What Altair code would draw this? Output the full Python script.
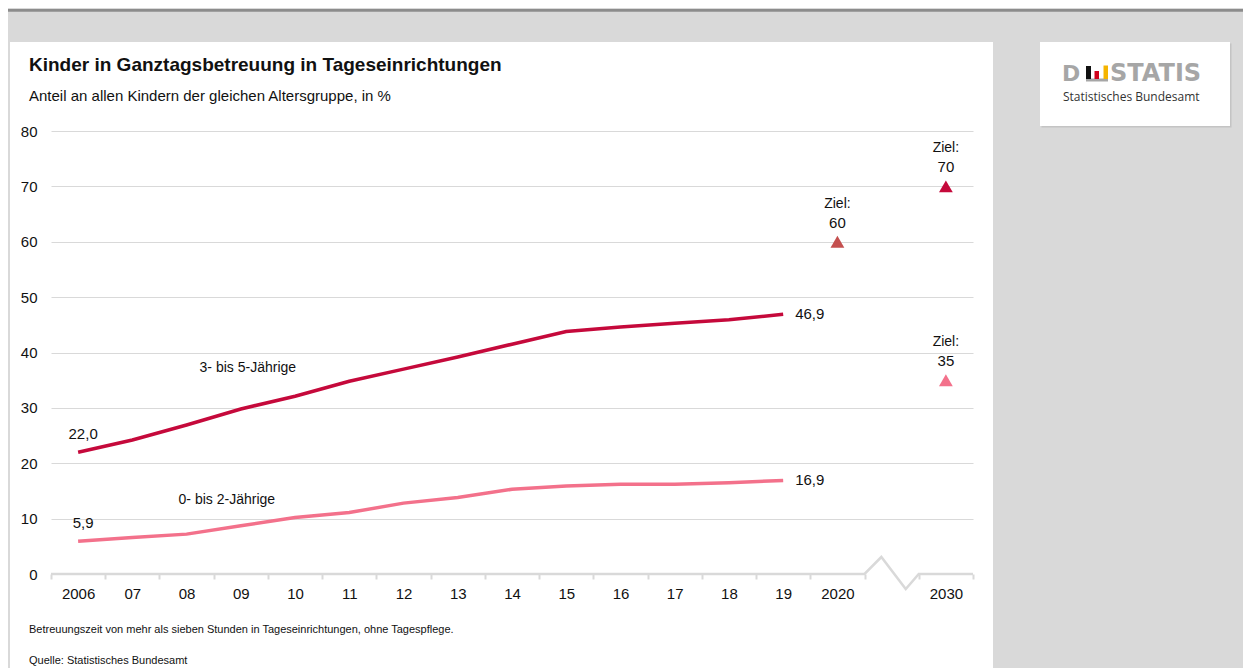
import altair as alt
import pandas as pd

# ---------------- data ----------------
years = ["2006", "07", "08", "09", "10", "11", "12", "13", "14", "15", "16", "17", "18", "19"]
x_domain = years + ["2020", "gap", "2030"]
share_3_5 = [22.0, 24.2, 26.9, 29.8, 32.1, 34.8, 37.0, 39.2, 41.5, 43.8, 44.6, 45.3, 45.9, 46.9]
share_0_2 = [5.9, 6.6, 7.2, 8.7, 10.2, 11.1, 12.8, 13.8, 15.3, 15.9, 16.2, 16.2, 16.5, 16.9]
series_names = ["3- bis 5-Jährige", "0- bis 2-Jährige"]
series_label_year = ["09", "09"]
series_label_value = [37.2, 13.4]

target_years = ["2020", "2030", "2030"]
target_values = [60, 70, 35]
target_groups = ["Ziel 2020", "3- bis 5-Jährige", "0- bis 2-Jährige"]

# broken baseline (axis break between 2020 and 2030), in band units / data units
axis_path_pos = [0, 15, 15.31, 15.76, 16, 17]
axis_path_val = [0, 0, 3.07, -2.7, 0, 0]

title_text = "Kinder in Ganztagsbetreuung in Tageseinrichtungen"
subtitle_text = "Anteil an allen Kindern der gleichen Altersgruppe, in %"
note_text = "Betreuungszeit von mehr als sieben Stunden in Tageseinrichtungen, ohne Tagespflege."
source_text = "Quelle: Statistisches Bundesamt"

# ---------------- style ----------------
FONT = "Liberation Sans"
TXT = "#111111"
GRID = "#d9d9d9"
BG = "#d9d9d9"
C35 = "#c5093b"
C02 = "#f3718b"
C2020 = "#c4504f"
W, H = 922, 443


def fmt(v):
    return f"{v:.1f}".replace(".", ",")


rows = []
for s, vals in zip(series_names, [share_3_5, share_0_2]):
    for yv, v in zip(years, vals):
        rows.append({"jahr": yv, "anteil": v, "gruppe": s})
lines_df = pd.DataFrame(rows)

first_df = lines_df[lines_df["jahr"] == years[0]].copy()
first_df["txt"] = first_df["anteil"].map(fmt)
last_df = lines_df[lines_df["jahr"] == years[-1]].copy()
last_df["txt"] = last_df["anteil"].map(fmt)

series_df = pd.DataFrame({"jahr": series_label_year, "anteil": series_label_value, "txt": series_names})

target_df = pd.DataFrame({"jahr": target_years, "anteil": target_values, "gruppe": target_groups,
                          "txt": [str(v) for v in target_values]})

base_df = pd.DataFrame({"pos": axis_path_pos, "val": axis_path_val, "o": list(range(len(axis_path_pos)))})

xscale = alt.Scale(type="band", domain=x_domain, paddingInner=0, paddingOuter=0)
xaxis = alt.Axis(domain=False, grid=False, tickBand="extent", tickSize=5, tickColor=GRID, tickWidth=2,
                 labelFontSize=15, labelColor=TXT, labelFont=FONT, labelPadding=7, labelAngle=0,
                 labelExpr="datum.value === 'gap' ? '' : datum.value")
yscale = alt.Scale(domain=[0, 80], nice=False, zero=True)
yaxis = alt.Axis(values=list(range(0, 81, 10)), domain=False, ticks=False, grid=True, gridColor=GRID,
                 gridWidth=1, gridOpacity=alt.condition("datum.value === 0", alt.value(0), alt.value(1)),
                 labelFontSize=15, labelColor=TXT, labelFont=FONT, labelPadding=14)


def xenc(f):
    return alt.X(f, scale=xscale, axis=xaxis, title=None)


def yenc(f):
    return alt.Y(f, scale=yscale, axis=yaxis, title=None)


cscale = alt.Scale(domain=series_names + ["Ziel 2020"], range=[C35, C02, C2020])
cenc = alt.Color("gruppe:N", scale=cscale, legend=None)

lines = alt.Chart(lines_df).mark_line(strokeWidth=3.5).encode(
    x=xenc("jahr:N"), y=yenc("anteil:Q"), color=cenc, detail="gruppe:N")

start_lbl = alt.Chart(first_df).mark_text(font=FONT, fontSize=15, color=TXT, dx=5, dy=-18,
                                          baseline="middle").encode(
    x=xenc("jahr:N"), y=yenc("anteil:Q"), text="txt:N")
end_lbl = alt.Chart(last_df).mark_text(font=FONT, fontSize=15, color=TXT, dx=12, align="left",
                                       baseline="middle").encode(
    x=xenc("jahr:N"), y=yenc("anteil:Q"), text="txt:N")
series_lbl = alt.layer(
    alt.Chart(series_df.iloc[[0]]).mark_text(font=FONT, fontSize=14, color=TXT, baseline="middle", dx=7).encode(
        x=xenc("jahr:N"), y=yenc("anteil:Q"), text="txt:N"),
    alt.Chart(series_df.iloc[[1]]).mark_text(font=FONT, fontSize=14, color=TXT, baseline="middle", dx=-14).encode(
        x=xenc("jahr:N"), y=yenc("anteil:Q"), text="txt:N"),
)

tri = alt.Chart(target_df).mark_point(shape="triangle-up", filled=True, size=190, opacity=1).encode(
    x=xenc("jahr:N"), y=yenc("anteil:Q"), color=cenc)
ziel1 = alt.Chart(target_df).mark_text(font=FONT, fontSize=14, color=TXT, dy=-38, baseline="middle").encode(
    x=xenc("jahr:N"), y=yenc("anteil:Q"), text=alt.value("Ziel:"))
ziel2 = alt.Chart(target_df).mark_text(font=FONT, fontSize=15, color=TXT, dy=-19, baseline="middle").encode(
    x=xenc("jahr:N"), y=yenc("anteil:Q"), text="txt:N")

main = alt.layer(lines, start_lbl, end_lbl, series_lbl, tri, ziel1, ziel2)

baseline = alt.Chart(base_df).mark_line(color=GRID, strokeWidth=2.5).encode(
    x=alt.X("pos:Q", scale=alt.Scale(domain=[0, 17], nice=False, zero=False), axis=None),
    y=yenc("val:Q"), order="o:O")

one = pd.DataFrame({"k": [0]})


def rect(x1, x2, y1, y2, color):
    return alt.Chart(one).mark_rect(color=color, opacity=1).encode(
        x=alt.value(x1), x2=alt.value(x2), y=alt.value(y1), y2=alt.value(y2))


def label(txt, x, y, size, weight="normal", color=TXT, font=FONT):
    return alt.Chart(one).mark_text(font=font, fontSize=size, fontWeight=weight, color=color,
                                    align="left", baseline="alphabetic").encode(
        x=alt.value(x), y=alt.value(y), text=alt.value(txt))


decor_back = [
    rect(-43, 1192, -123, -89, BG),
    rect(-43, 1192, -122, -119.3, "#8c8c8c"),
    rect(-43, -41, -89, 537, BG),
    rect(942, 1192, -89, 537, BG),
    rect(990.5, 1180.5, -87.5, -3.5, "#c4c4c4"),
    rect(989, 1179, -89, -5, "white"),
    rect(1035, 1057, -52.5, -49.5, "#a6a6a6"),
    rect(1035, 1040, -65, -52, "#111111"),
    rect(1043.5, 1048, -60, -52, "#d0021b"),
    rect(1052.5, 1057, -65.5, -52, "#f5b400"),
]

decor_text = [
    label(title_text, -22, -60, 19, "bold"),
    label(subtitle_text, -22, -30, 15),
    label(note_text, -22, 502, 11),
    label(source_text, -22, 533, 11),
    label("D", 1011, -50, 22, "bold", "#a6a6a6", "DejaVu Sans"),
    label("STATIS", 1059, -50, 24, "bold", "#a6a6a6", "DejaVu Sans"),
    label("Statistisches Bundesamt", 1012, -30, 12, "normal", "#333333", "Open Sans"),
]

chart = alt.layer(*decor_back, main, baseline, *decor_text).resolve_scale(x="independent").properties(
    width=W, height=H,
    padding={"left": 43, "top": 123, "right": 270, "bottom": 94},
    autosize=alt.AutoSizeParams(type="none"),
    background="white",
).configure_view(stroke=None)

chart.save("out.html", embed_options={"renderer": "svg", "actions": False})
